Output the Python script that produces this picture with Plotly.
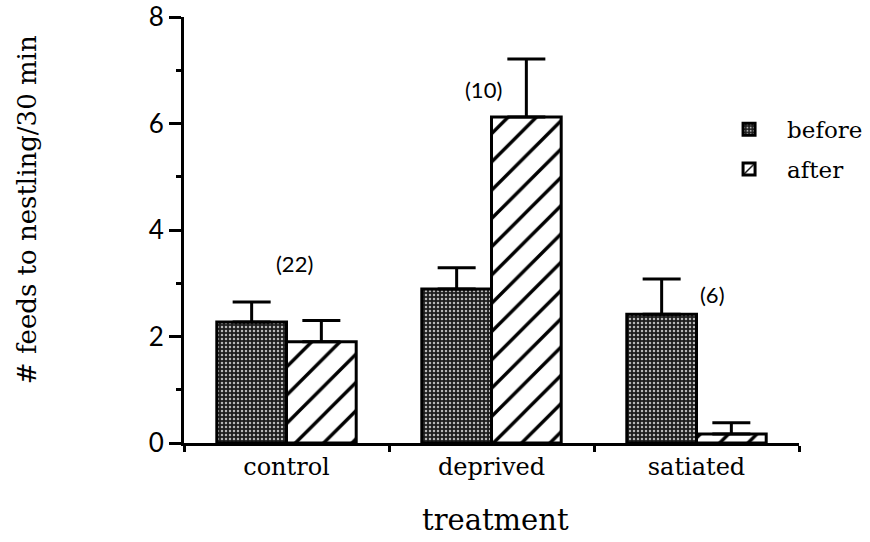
import plotly.graph_objects as go

# Feeding rates per nestling, before and after the treatment
treatments = ["control", "deprived", "satiated"]
before_mean = [2.27, 2.89, 2.42]
before_se = [0.38, 0.40, 0.66]
after_mean = [1.90, 6.12, 0.17]
after_se = [0.40, 1.09, 0.21]
sample_sizes = ["(22)", "(10)", "(6)"]
y_ticks = [0, 2, 4, 6, 8]

SERIF = "DejaVu Serif"
SANS = "Lato"

fig = go.Figure()

fig.add_trace(go.Bar(
    name="before",
    x=treatments,
    y=before_mean,
    legendgroup="b",
    marker=dict(
        color="#1c1c1c",
        line=dict(color="black", width=3),
        pattern=dict(shape=".", fillmode="replace", bgcolor="#1e1e1e",
                     fgcolor="#b8b8b8", size=4, solidity=0.3),
    ),
    error_y=dict(type="data", array=before_se, arrayminus=[0] * len(before_se),
                 symmetric=False, color="black", thickness=3, width=19),
))

fig.add_trace(go.Bar(
    name="after",
    x=treatments,
    y=after_mean,
    legendgroup="a",
    marker=dict(
        color="white",
        line=dict(color="black", width=3),
        pattern=dict(shape="/", fillmode="replace", bgcolor="white",
                     fgcolor="black", size=20, solidity=0.17),
    ),
    error_y=dict(type="data", array=after_se, arrayminus=[0] * len(after_se),
                 symmetric=False, color="black", thickness=3, width=19),
))

# sample sizes above each treatment group
label_pos = [(0.04, 3.38), (0.96, 6.63), (2.08, 2.78)]
annotations = []
for txt, (lx, ly) in zip(sample_sizes, label_pos):
    annotations.append(dict(x=lx, y=ly, xref="x", yref="y", text=txt,
                            showarrow=False, font=dict(family=SANS, size=22, color="black"),
                            xanchor="center", yanchor="middle"))

# axis titles
annotations.append(dict(x=-0.255, y=0.547, xref="paper", yref="paper",
                        text="# feeds to nestling/30 min", textangle=-90,
                        showarrow=False, font=dict(family=SERIF, size=26, color="black"),
                        xanchor="center", yanchor="middle"))
annotations.append(dict(x=0.507, y=-0.18, xref="paper", yref="paper",
                        text="treatment", showarrow=False,
                        font=dict(family=SERIF, size=29, color="black"),
                        xanchor="center", yanchor="middle"))

fig.update_layout(
    width=870, height=542,
    margin=dict(l=184, r=71, t=17, b=99, autoexpand=False),
    paper_bgcolor="white", plot_bgcolor="white",
    barmode="group", bargap=0.32, bargroupgap=0,
    showlegend=True,
    legend=dict(x=0.857, y=0.787, xanchor="left", yanchor="top",
                itemwidth=66,
                font=dict(family=SERIF, size=23, color="black"),
                tracegroupgap=7, bgcolor="rgba(0,0,0,0)"),
    annotations=annotations,
)

fig.update_xaxes(
    type="category", range=[-0.5, 2.5], automargin=False,
    showline=True, linecolor="black", linewidth=3,
    ticks="outside", tickson="boundaries", ticklen=6, tickwidth=3, tickcolor="black",
    tickfont=dict(family=SERIF, size=24, color="black"),
    showgrid=False, zeroline=False,
)

fig.update_yaxes(
    range=[0, 8], tickvals=y_ticks, automargin=False,
    showline=True, linecolor="black", linewidth=3,
    ticks="outside", ticklen=12, tickwidth=3, tickcolor="black",
    minor=dict(dtick=1, ticks="outside", ticklen=5, tickwidth=3, tickcolor="black", showgrid=False),
    tickfont=dict(family=SANS, size=26, color="black"),
    showgrid=False, zeroline=False,
)

fig.write_html("out.html")
